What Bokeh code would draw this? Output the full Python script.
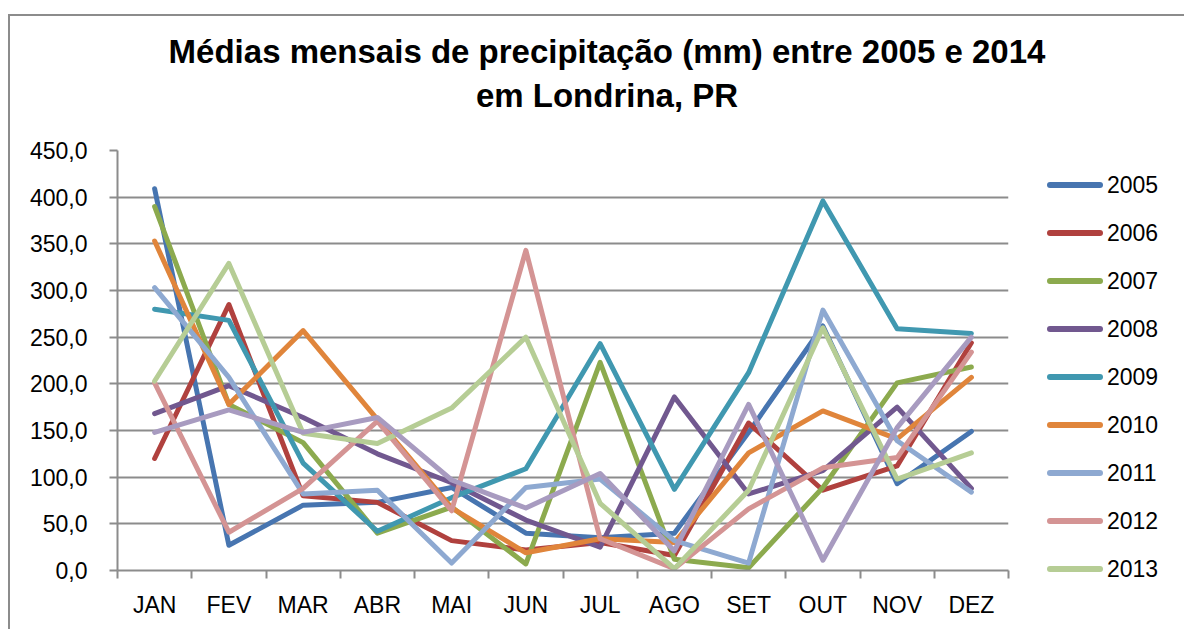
from bokeh.plotting import figure
from bokeh.models import Range1d, FixedTicker, Div
from bokeh.layouts import row, column
from bokeh.embed import file_html
from bokeh.resources import INLINE

months = ["JAN", "FEV", "MAR", "ABR", "MAI", "JUN", "JUL", "AGO", "SET", "OUT", "NOV", "DEZ"]
years = ["2005", "2006", "2007", "2008", "2009", "2010", "2011", "2012", "2013", "2014"]

v2005 = [409, 27, 70, 73, 89, 40, 35, 40, 148, 262, 93, 149]
v2006 = [120, 285, 80, 73, 32, 22, 30, 16, 158, 86, 112, 244]
v2007 = [390, 178, 137, 40, 68, 7, 223, 12, 3, 89, 201, 218]
v2008 = [168, 198, 164, 125, 94, 54, 25, 186, 82, 107, 175, 88]
v2009 = [280, 268, 115, 42, 78, 109, 243, 87, 212, 396, 259, 254]
v2010 = [353, 178, 257, 162, 67, 19, 34, 30, 126, 171, 141, 207]
v2011 = [303, 207, 82, 86, 8, 89, 98, 32, 8, 279, 139, 84]
v2012 = [201, 41, 88, 160, 64, 343, 34, 2, 66, 110, 121, 234]
v2013 = [203, 329, 147, 136, 174, 250, 72, 2, 86, 260, 98, 126]
v2014 = [148, 172, 148, 164, 97, 67, 104, 21, 178, 11, 153, 250]

series = [v2005, v2006, v2007, v2008, v2009, v2010, v2011, v2012, v2013, v2014]
colors = ["#4775B0", "#B0413E", "#8CAA4E", "#71588F", "#4098B0",
          "#E0853B", "#8EA9D1", "#D49494", "#B6CD95", "#A89BC0"]
y_ticks = [0, 50, 100, 150, 200, 250, 300, 350, 400, 450]
title_lines = ["Médias mensais de precipitação (mm) entre 2005 e 2014", "em Londrina, PR"]

x_pos = [i + 0.5 for i in range(len(months))]
tfont = "Liberation Sans"
grey = "#8C8C8C"

# ---------------- title block ----------------
title_html = ('<div style="position:relative;width:1184px;height:135px;overflow:hidden;'
              'font-family:\'Liberation Sans\';">')
title_html += ('<div style="position:absolute;left:8px;top:14px;width:1176px;height:0;'
               'border-top:2px solid %s;"></div>' % grey)
title_html += ('<div style="position:absolute;left:8px;top:14px;width:0;height:121px;'
               'border-left:2px solid %s;"></div>' % grey)
for i, line in enumerate(title_lines):
    title_html += ('<div style="position:absolute;left:15px;top:%dpx;width:1184px;'
                   'text-align:center;font-size:33px;font-weight:bold;line-height:40px;'
                   'color:#000;white-space:nowrap;">%s</div>' % (32 + 44 * i, line))
title_html += '</div>'
title_div = Div(text=title_html, width=1184, height=135,
                styles={"margin": "0", "padding": "0", "overflow": "hidden"})

# ---------------- left border strip ----------------
left_div = Div(text=('<div style="position:relative;width:10px;height:494px;">'
                     '<div style="position:absolute;left:8px;top:0;width:0;height:494px;'
                     'border-left:2px solid %s;"></div></div>' % grey),
               width=10, height=494, styles={"margin": "0", "padding": "0"})

# ---------------- main chart ----------------
p = figure(width=1000, height=494, output_backend="svg", toolbar_location=None,
           x_range=Range1d(0, 12), y_range=Range1d(0, 450),
           min_border_left=107, min_border_right=2, min_border_top=15, min_border_bottom=59,
           title=None)

for vals, col in zip(series, colors):
    p.line(x_pos, vals, line_color=col, line_width=5, line_cap="round", line_join="round")

p.xaxis.ticker = FixedTicker(ticks=x_pos, minor_ticks=list(range(13)))
p.xaxis.major_label_overrides = {x: m for x, m in zip(x_pos, months)}
p.xaxis.major_tick_line_color = None
p.xaxis.major_tick_out = 0
p.xaxis.major_tick_in = 0
p.xaxis.minor_tick_out = 8
p.xaxis.minor_tick_in = 0
p.xaxis.minor_tick_line_color = grey
p.xaxis.minor_tick_line_width = 2
p.xaxis.major_label_standoff = 13

p.yaxis.ticker = FixedTicker(ticks=y_ticks)
p.yaxis.major_label_overrides = {t: f"{t:.1f}".replace(".", ",") for t in y_ticks}
p.yaxis.major_tick_out = 8
p.yaxis.major_tick_in = 0
p.yaxis.minor_tick_line_color = None
p.yaxis.major_tick_line_color = grey
p.yaxis.major_tick_line_width = 2
p.yaxis.major_label_standoff = 22

for ax in (p.xaxis, p.yaxis):
    ax.axis_line_color = grey
    ax.axis_line_width = 2
    ax.major_label_text_font = tfont
    ax.major_label_text_font_size = "23px"
    ax.major_label_text_color = "#000000"

p.xgrid.grid_line_color = None
p.ygrid.grid_line_color = grey
p.ygrid.grid_line_width = 2
p.ygrid.ticker = FixedTicker(ticks=y_ticks)
p.outline_line_color = None

# ---------------- legend (HTML) ----------------
leg_html = ('<div style="position:relative;width:174px;height:494px;'
            'font-family:\'Liberation Sans\';font-size:23px;color:#000;">')
for i, (yr, col) in enumerate(zip(years[:9], colors[:9])):
    cy = 50 + 48 * i
    leg_html += ('<div style="position:absolute;left:37px;top:%dpx;width:56px;height:6px;'
                 'border-radius:3px;background:%s;"></div>' % (cy - 3, col))
    leg_html += ('<div style="position:absolute;left:97px;top:%dpx;height:28px;'
                 'line-height:28px;white-space:nowrap;">%s</div>' % (cy - 14, yr))
leg_html += '</div>'
legend_div = Div(text=leg_html, width=174, height=494, styles={"margin": "0", "padding": "0"})

layout = column(title_div, row(left_div, p, legend_div))
open("out.html", "w").write(file_html(layout, INLINE))
